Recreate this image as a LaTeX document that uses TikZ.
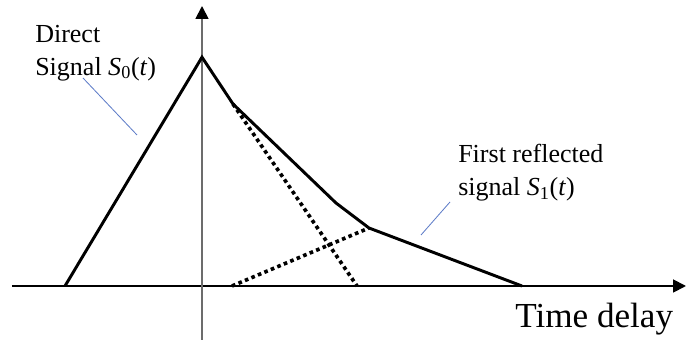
\documentclass[tikz,border=0pt]{standalone}
\usepackage{fontspec}
\setmainfont{Liberation Serif}
\usepackage{amsmath}
\usetikzlibrary{positioning, arrows.meta, calc}

\newcommand{\sgn}[1]{\textit{S}\textsubscript{#1}(\textit{t})}

\tikzset{
  sig/.style={line width=2.1pt, line join=miter},
  dots/.style={line width=2.6pt, dash pattern=on 2.6pt off 2.4pt},
  leader/.style={line width=0.6pt, color={rgb,255:red,95;green,125;blue,200}},
  lbl/.style={inner sep=0pt, align=left, font=\fontsize{18.5}{23.4}\selectfont},
}

\begin{document}
\begin{tikzpicture}
\useasboundingbox (-5.05,-1.4) rectangle (12.1,7.15);

% axes
\coordinate (xl) at (-4.75,0);
\coordinate (xr) at (12.1,0);
\coordinate (yb) at (0,-1.35);
\coordinate (yt) at (0,7.0);
\draw[line width=1.3pt, -{Triangle[length=0.32cm,width=0.32cm]}] (xl) -- (xr);
\draw[line width=1.3pt, gray!85!black, -{Triangle[length=0.32cm,width=0.32cm,black]}] (yb) -- (yt);

% direct and reflected signal
\coordinate (lf) at (-3.425,0);
\coordinate (pk) at (0,5.72);
\coordinate (k1) at (0.775,4.55);
\coordinate (k2) at (3.35,2.075);
\coordinate (k3) at (4.175,1.45);
\coordinate (rf) at (8.0,0);
\coordinate (d1) at (3.875,0);
\coordinate (d2) at (0.75,0);

\draw[sig] (lf) -- (pk) -- (k1) -- (k2) -- (k3) -- (rf);
\draw[dots] (k1) -- (d1);
\draw[dots] (d2) -- (k3);

% labels
\node[lbl, anchor=north west] (ds) at (-4.175,6.53) {Direct\\Signal \sgn{0}};
\node[lbl, anchor=north west] (fr) at (6.4,3.55) {First reflected\\signal \sgn{1}};
\node[inner sep=0pt, anchor=base west, font=\fontsize{25}{30}\selectfont] (td) at (7.825,-1.05) {Time delay};

\coordinate (a1) at (-2.975,5.2);
\coordinate (b1) at (-1.625,3.775);
\coordinate (a2) at (6.2,2.1);
\coordinate (b2) at (5.475,1.275);
\draw[leader] (a1) -- (b1);
\draw[leader] (a2) -- (b2);
\end{tikzpicture}
\end{document}
